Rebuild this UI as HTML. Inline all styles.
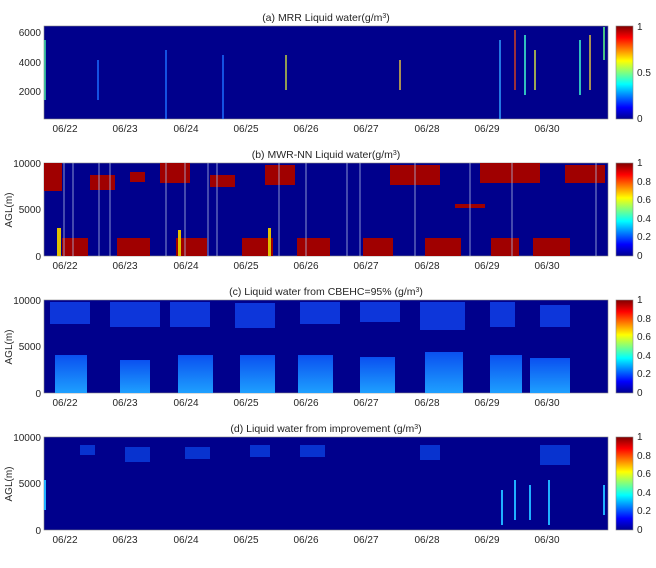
<!DOCTYPE html>
<html><head><meta charset="utf-8"><style>
body{margin:0;background:#fff;}
svg text{font-family:"Liberation Sans",sans-serif;fill:#262626;}
</style></head><body>
<svg width="656" height="563" xmlns="http://www.w3.org/2000/svg">
<defs>
<linearGradient id="jet" x1="0" y1="1" x2="0" y2="0">
<stop offset="0" stop-color="#00008f"/><stop offset="0.125" stop-color="#0000ff"/>
<stop offset="0.375" stop-color="#00ffff"/><stop offset="0.625" stop-color="#ffff00"/>
<stop offset="0.875" stop-color="#ff0000"/><stop offset="1" stop-color="#800000"/>
</linearGradient>
<linearGradient id="lb" x1="0" y1="1" x2="0" y2="0"><stop offset="0" stop-color="#1ea0ff"/><stop offset="1" stop-color="#0a50f0"/></linearGradient>
</defs>
<g font-size="10">
<!-- Panel a -->
<rect x="44" y="26" width="564" height="93" fill="#00008c" stroke="#888" stroke-width="0.6"/>
<g stroke-width="1.5">
<line x1="45" y1="40" x2="45" y2="100" stroke="#40e0a0"/>
<line x1="98" y1="60" x2="98" y2="100" stroke="#1a6cff"/>
<line x1="166" y1="50" x2="166" y2="119" stroke="#1a6cff"/>
<line x1="223" y1="55" x2="223" y2="119" stroke="#1a6cff"/>
<line x1="286" y1="55" x2="286" y2="90" stroke="#c0d040"/>
<line x1="400" y1="60" x2="400" y2="90" stroke="#e0c040"/>
<line x1="500" y1="40" x2="500" y2="119" stroke="#30a0ff"/>
<line x1="515" y1="30" x2="515" y2="90" stroke="#d04020"/>
<line x1="525" y1="35" x2="525" y2="95" stroke="#40ffd0"/>
<line x1="535" y1="50" x2="535" y2="90" stroke="#d0e040"/>
<line x1="580" y1="40" x2="580" y2="95" stroke="#40ffd0"/>
<line x1="590" y1="35" x2="590" y2="90" stroke="#e0c040"/>
<line x1="604" y1="27" x2="604" y2="60" stroke="#60ff80"/>
</g>
<text x="326" y="21" text-anchor="middle" font-size="10.5">(a) MRR Liquid water(g/m<tspan baseline-shift="super" font-size="7">3</tspan>)</text>
<g text-anchor="end"><text x="41" y="36">6000</text><text x="41" y="66">4000</text><text x="41" y="95">2000</text></g>
<rect x="616" y="26" width="17" height="93" fill="url(#jet)" stroke="#888" stroke-width="0.6"/>
<text x="637" y="30">1</text><text x="637" y="76">0.5</text><text x="637" y="122">0</text>

<!-- Panel b -->
<rect x="44" y="163" width="564" height="93" fill="#00008c" stroke="#888" stroke-width="0.6"/>
<g fill="#a00000">
<rect x="44" y="163" width="18" height="28"/><rect x="90" y="175" width="25" height="15"/><rect x="130" y="172" width="15" height="10"/>
<rect x="160" y="163" width="30" height="20"/><rect x="210" y="175" width="25" height="12"/><rect x="265" y="165" width="30" height="20"/>
<rect x="390" y="165" width="50" height="20"/><rect x="480" y="163" width="60" height="20"/><rect x="565" y="165" width="40" height="18"/>
<rect x="62" y="238" width="26" height="18"/><rect x="117" y="238" width="33" height="18"/><rect x="176" y="238" width="31" height="18"/>
<rect x="242" y="238" width="31" height="18"/><rect x="297" y="238" width="33" height="18"/><rect x="363" y="238" width="30" height="18"/>
<rect x="425" y="238" width="36" height="18"/><rect x="491" y="238" width="28" height="18"/><rect x="533" y="238" width="37" height="18"/>
<rect x="455" y="204" width="30" height="4"/>
</g>
<g fill="#e0c000"><rect x="57" y="228" width="4" height="28"/><rect x="178" y="230" width="3" height="26"/><rect x="268" y="228" width="3" height="28"/></g>
<g stroke="#aab8e0" stroke-width="0.8">
<line x1="64" y1="163" x2="64" y2="256"/><line x1="73" y1="163" x2="73" y2="256"/><line x1="99" y1="163" x2="99" y2="256"/><line x1="110" y1="163" x2="110" y2="256"/>
<line x1="166" y1="163" x2="166" y2="256"/><line x1="185" y1="163" x2="185" y2="256"/><line x1="208" y1="163" x2="208" y2="256"/><line x1="217" y1="163" x2="217" y2="256"/>
<line x1="279" y1="163" x2="279" y2="256"/><line x1="306" y1="163" x2="306" y2="256"/><line x1="347" y1="163" x2="347" y2="256"/><line x1="360" y1="163" x2="360" y2="256"/>
<line x1="415" y1="163" x2="415" y2="256"/><line x1="470" y1="163" x2="470" y2="256"/><line x1="512" y1="163" x2="512" y2="256"/><line x1="596" y1="163" x2="596" y2="256"/>
</g>
<text x="326" y="158" text-anchor="middle" font-size="10.5">(b) MWR-NN Liquid water(g/m<tspan baseline-shift="super" font-size="7">3</tspan>)</text>
<g text-anchor="end"><text x="41" y="167">10000</text><text x="41" y="213">5000</text><text x="41" y="260">0</text></g>
<text transform="translate(12,210) rotate(-90)" text-anchor="middle">AGL(m)</text>
<rect x="616" y="163" width="17" height="93" fill="url(#jet)" stroke="#888" stroke-width="0.6"/>
<g><text x="637" y="166">1</text><text x="637" y="185">0.8</text><text x="637" y="203">0.6</text><text x="637" y="222">0.4</text><text x="637" y="240">0.2</text><text x="637" y="259">0</text></g>

<!-- Panel c -->
<rect x="44" y="300" width="564" height="93" fill="#00008c" stroke="#888" stroke-width="0.6"/>
<g fill="#1040e8" opacity="0.85">
<rect x="50" y="302" width="40" height="22"/><rect x="110" y="302" width="50" height="25"/><rect x="170" y="302" width="40" height="25"/>
<rect x="235" y="303" width="40" height="25"/><rect x="300" y="302" width="40" height="22"/><rect x="360" y="302" width="40" height="20"/>
<rect x="420" y="302" width="45" height="28"/><rect x="490" y="302" width="25" height="25"/><rect x="540" y="305" width="30" height="22"/>
</g>
<g fill="url(#lb)">
<rect x="55" y="355" width="32" height="38"/><rect x="120" y="360" width="30" height="33"/><rect x="178" y="355" width="35" height="38"/>
<rect x="240" y="355" width="35" height="38"/><rect x="298" y="355" width="35" height="38"/><rect x="360" y="357" width="35" height="36"/>
<rect x="425" y="352" width="38" height="41"/><rect x="490" y="355" width="32" height="38"/><rect x="530" y="358" width="40" height="35"/>
</g>
<text x="326" y="295" text-anchor="middle" font-size="10.5">(c) Liquid water from CBEHC=95% (g/m<tspan baseline-shift="super" font-size="7">3</tspan>)</text>
<g text-anchor="end"><text x="41" y="304">10000</text><text x="41" y="350">5000</text><text x="41" y="397">0</text></g>
<text transform="translate(12,347) rotate(-90)" text-anchor="middle">AGL(m)</text>
<rect x="616" y="300" width="17" height="93" fill="url(#jet)" stroke="#888" stroke-width="0.6"/>
<g><text x="637" y="303">1</text><text x="637" y="322">0.8</text><text x="637" y="340">0.6</text><text x="637" y="359">0.4</text><text x="637" y="377">0.2</text><text x="637" y="396">0</text></g>

<!-- Panel d -->
<rect x="44" y="437" width="564" height="93" fill="#00008c" stroke="#888" stroke-width="0.6"/>
<g fill="#0a40e0" opacity="0.8">
<rect x="80" y="445" width="15" height="10"/><rect x="125" y="447" width="25" height="15"/><rect x="185" y="447" width="25" height="12"/>
<rect x="250" y="445" width="20" height="12"/><rect x="300" y="445" width="25" height="12"/><rect x="420" y="445" width="20" height="15"/>
<rect x="540" y="445" width="30" height="20"/>
</g>
<g stroke="#20b0ff" stroke-width="2"><line x1="45" y1="480" x2="45" y2="510"/><line x1="502" y1="490" x2="502" y2="525"/><line x1="515" y1="480" x2="515" y2="520"/><line x1="530" y1="485" x2="530" y2="520"/><line x1="549" y1="480" x2="549" y2="525"/><line x1="604" y1="485" x2="604" y2="515"/></g>
<text x="326" y="432" text-anchor="middle" font-size="10.5">(d) Liquid water from improvement (g/m<tspan baseline-shift="super" font-size="7">3</tspan>)</text>
<g text-anchor="end"><text x="41" y="441">10000</text><text x="41" y="487">5000</text><text x="41" y="534">0</text></g>
<text transform="translate(12,484) rotate(-90)" text-anchor="middle">AGL(m)</text>
<rect x="616" y="437" width="17" height="93" fill="url(#jet)" stroke="#888" stroke-width="0.6"/>
<g><text x="637" y="440">1</text><text x="637" y="459">0.8</text><text x="637" y="477">0.6</text><text x="637" y="496">0.4</text><text x="637" y="514">0.2</text><text x="637" y="533">0</text></g>

<!-- date labels -->
<g text-anchor="middle">
<text x="65" y="132">06/22</text><text x="125" y="132">06/23</text><text x="186" y="132">06/24</text><text x="246" y="132">06/25</text><text x="306" y="132">06/26</text><text x="366" y="132">06/27</text><text x="427" y="132">06/28</text><text x="487" y="132">06/29</text><text x="547" y="132">06/30</text>
<text x="65" y="269">06/22</text><text x="125" y="269">06/23</text><text x="186" y="269">06/24</text><text x="246" y="269">06/25</text><text x="306" y="269">06/26</text><text x="366" y="269">06/27</text><text x="427" y="269">06/28</text><text x="487" y="269">06/29</text><text x="547" y="269">06/30</text>
<text x="65" y="406">06/22</text><text x="125" y="406">06/23</text><text x="186" y="406">06/24</text><text x="246" y="406">06/25</text><text x="306" y="406">06/26</text><text x="366" y="406">06/27</text><text x="427" y="406">06/28</text><text x="487" y="406">06/29</text><text x="547" y="406">06/30</text>
<text x="65" y="543">06/22</text><text x="125" y="543">06/23</text><text x="186" y="543">06/24</text><text x="246" y="543">06/25</text><text x="306" y="543">06/26</text><text x="366" y="543">06/27</text><text x="427" y="543">06/28</text><text x="487" y="543">06/29</text><text x="547" y="543">06/30</text>
</g>
</g>
</svg>
</body></html>
